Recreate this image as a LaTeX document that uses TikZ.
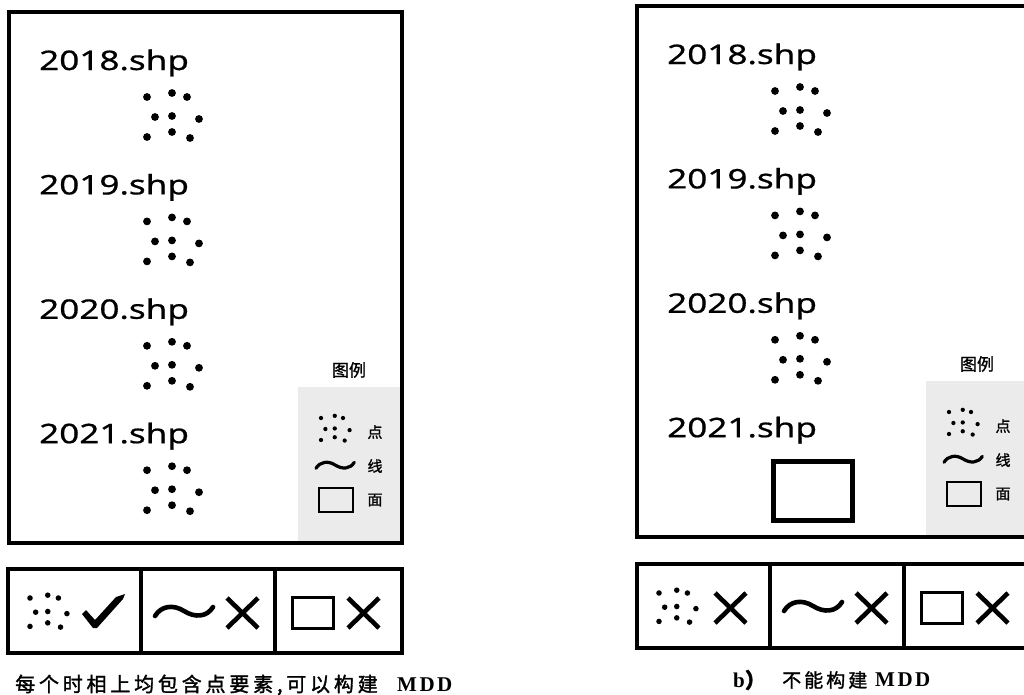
\documentclass[tikz,border=0pt]{standalone}
\usepackage{fontspec}
\newfontfamily\shpfont[FakeStretch=1.3,FakeBold=0.6]{Noto Sans}
\newfontfamily\lgfont[FakeBold=1.2]{Noto Sans CJK SC}
\newfontfamily\capfont[FakeBold=1.5,LetterSpace=19]{Noto Sans CJK SC}
\newfontfamily\capbfont[FakeBold=1.5,LetterSpace=16]{Noto Sans CJK SC}
\newfontfamily\mddfont[LetterSpace=12]{Liberation Serif}

\tikzset{
	frameline/.style={line width=4.5},
	legendbg/.style={fill=black!8},
	shp/.style={anchor=base west,inner sep=0pt,font={\shpfont\fontsize{27}{30}\selectfont}},
	lgtitle/.style={inner sep=0pt,font={\lgfont\fontsize{17}{19}\selectfont}},
	lgtext/.style={inner sep=0pt,font={\lgfont\fontsize{15}{17}\selectfont}},
	captext/.style={anchor=west,inner sep=0pt,font={\capfont\fontsize{20}{22}\selectfont}},
	mddtext/.style={anchor=west,inner sep=0pt,font={\mddfont\bfseries\fontsize{21}{22}\selectfont}},
	pics/dotset/.style={code={
		\foreach \px/\py in {0/0,25/-4,40/0,8/20,25/19,52/22,0/40,25/35,43/41}
			\fill (\px,\py) circle[radius=3.9];
	}},
	pics/wave/.style={code={
		\draw[line cap=round,line width=#1] (0,5) .. controls (6,-5) and (18,-7) .. (29,0)
			.. controls (40,7) and (52,6) .. (58,-4);
	}},
	pics/cross/.style={code={
		\draw[line width=4.6] (0,0) -- (31,30) (0,30) -- (31,0);
	}},
	pics/tick/.style={code={
		\fill (0,5) -- (4,1) -- (13,11) -- (34,-12) -- (43,-15) -- (41,-10)
			-- (15,19) -- (11,19) -- cycle;
	}},
	% one map frame with its legend, #1 = last year with a point layer
	pics/panel/.style={code={
		\fill[legendbg] (289,375) rectangle (393,531);
		\draw[frameline] (0,0) rectangle (393,531);
		\foreach \yr [count=\i from 0] in {2018,2019,2020,2021}
			\node[shp] (-y\yr) at (30,58+124.4*\i) {\yr.shp};
		\foreach \i in {0,...,#1}
			\pic at (138,85+124.4*\i) {dotset};
		\ifnum#1=2
			\draw[line width=5] (136,455) rectangle (215,514);
		\fi

		% legend
		\node[lgtitle] (-lgt) at (340,358) {图例};
		\pic[scale=0.55] at (312,406) {dotset};
		\node[lgtext] (-lgp) at (366,420) {点};
		\pic[scale=0.66] at (307,453) {wave=3.2};
		\node[lgtext] (-lgl) at (366,454) {线};
		\draw[line width=2.5] (310,476) rectangle (344,500);
		\node[lgtext] (-lga) at (366,488) {面};
	}},
	% row of the three feature types, #1 = 1 if points are present
	pics/checkrow/.style={code={
		\draw[frameline] (0,0) rectangle (394,84);
		\draw[frameline] (133,0) -- (133,84) (267,0) -- (267,84);
		\pic[scale=0.71] at (22,29) {dotset};
		\ifnum#1=1
			\pic at (74,40) {tick};
		\else
			\pic at (78,29) {cross};
		\fi
		\pic at (147,42) {wave=4.6};
		\pic at (219,29) {cross};
		\draw[line width=3] (284,28) rectangle (325,59);
		\pic at (340,29) {cross};
	}}
}

\begin{document}
\begin{tikzpicture}[x=1pt,y=-1pt]
	\useasboundingbox (0,0) rectangle (1024,694);
	\clip (0,0) rectangle (1024,694);

	\pic (pa) at (9,12) {panel=3};
	\pic (ra) at (8,569) {checkrow=1};
	\node[captext] (capa) at (15,685) {每个时相上均包含点要素,可以构建};
	\node[mddtext] (mdda) at (397,685) {MDD};

	\pic (pb) at (637,6) {panel=2};
	\pic (rb) at (637,564) {checkrow=0};
	\node[mddtext] (capb) at (733,680) {b\capbfont）};
	\node[captext,font={\capbfont\fontsize{19}{21}\selectfont}] (txtb) at (782,680) {不能构建};
	\node[mddtext] (mddb) at (875,680) {MDD};
\end{tikzpicture}
\end{document}
